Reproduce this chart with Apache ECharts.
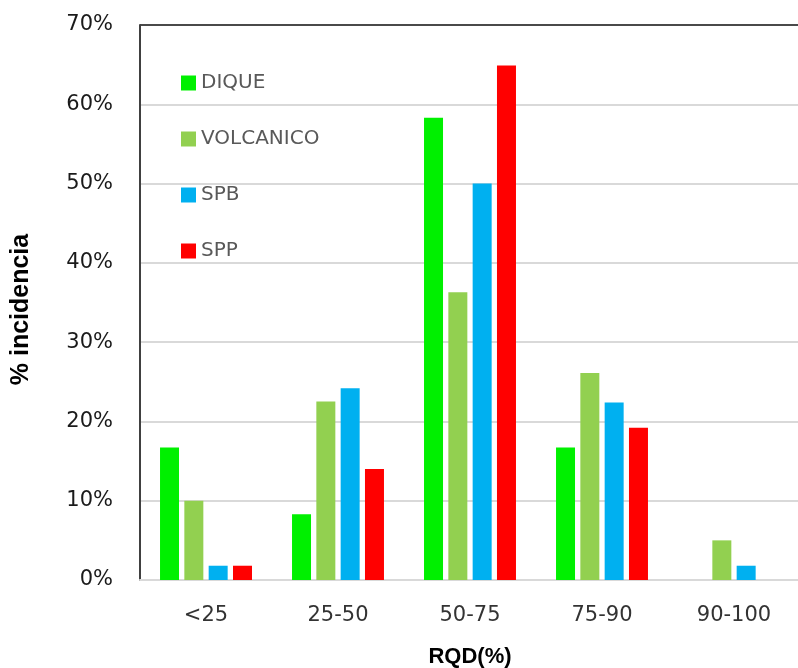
<!DOCTYPE html>
<html>
<head>
<meta charset="utf-8">
<script src="https://cdn.jsdelivr.net/npm/echarts@6/dist/echarts.min.js"></script>
<style>
  html, body { margin: 0; padding: 0; background: #fff; overflow: hidden; }
  #chart { width: 798px; height: 668px; }
</style>
</head>
<body>
<div id="chart"></div>
<script>
// RQD classes and incidence (%) per rock unit
const categories = ['<25', '25-50', '50-75', '75-90', '90-100'];
const dique     = [16.7, 8.3, 58.3, 16.7, 0];
const volcanico = [10.0, 22.5, 36.3, 26.1, 5.0];
const spb       = [1.8, 24.2, 50.0, 22.4, 1.8];
const spp       = [1.8, 14.0, 64.9, 19.2, 0];
const seriesNames = ['DIQUE', 'VOLCANICO', 'SPB', 'SPP'];
const seriesColors = ['#00F000', '#92D050', '#00B0F0', '#FF0000'];

const labelFont = '"DejaVu Sans", Verdana, sans-serif';
const titleFont = '"Liberation Sans", Arial, sans-serif';
const values = [dique, volcanico, spb, spp];

const chart = echarts.init(document.getElementById('chart'));
chart.setOption({
  animation: false,
  grid: { left: 140, top: 25, width: 660, height: 555, outerBoundsMode: 'none', containLabel: false },
  legend: {
    orient: 'vertical',
    left: 176,
    top: 68,
    itemWidth: 15,
    itemHeight: 15,
    itemGap: 36,
    icon: 'rect',
    textStyle: { color: '#595959', fontSize: 20, fontFamily: labelFont },
    data: seriesNames
  },
  xAxis: {
    type: 'category',
    data: categories,
    name: 'RQD(%)',
    nameLocation: 'middle',
    nameGap: 66,
    nameTextStyle: { color: '#000', fontSize: 22, fontWeight: 'bold', fontFamily: titleFont },
    axisLine: { lineStyle: { color: '#d9d9d9', width: 2 } },
    axisTick: { show: false },
    axisLabel: { color: '#333', fontSize: 21, margin: 25, fontFamily: labelFont }
  },
  yAxis: {
    type: 'value',
    min: 0,
    max: 70,
    interval: 10,
    name: '% incidencia',
    nameLocation: 'middle',
    nameGap: 106,
    nameTextStyle: {
      color: '#000', fontSize: 25, fontWeight: 'bold', fontFamily: titleFont,
      padding: [0, 14, 0, 0]
    },
    axisLine: { show: true, lineStyle: { color: '#404040', width: 2 } },
    axisTick: { show: false },
    axisLabel: {
      formatter: '{value}%',
      color: '#1a1a1a',
      fontSize: 21,
      margin: 27,
      fontFamily: labelFont
    },
    splitLine: {
      lineStyle: {
        color: ['#d9d9d9', '#d9d9d9', '#d9d9d9', '#d9d9d9', '#d9d9d9', '#d9d9d9', '#d9d9d9', '#4a4a4a'],
        width: 2
      }
    }
  },
  series: seriesNames.map((name, i) => ({
    name: name,
    type: 'bar',
    data: values[i],
    barWidth: 19,
    barGap: '28%',
    itemStyle: { color: seriesColors[i] }
  }))
});
</script>
</body>
</html>
